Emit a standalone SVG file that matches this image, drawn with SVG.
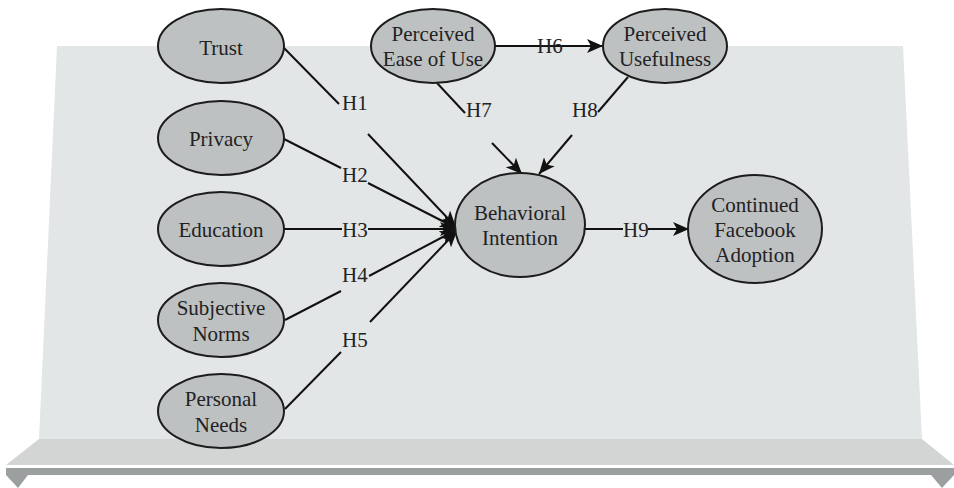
<svg xmlns="http://www.w3.org/2000/svg" width="954" height="488" viewBox="0 0 954 488">
<defs>
<style>
.n ellipse{fill:#bec1c2;stroke:#1c1c1c;stroke-width:2}
.n text{text-anchor:middle}
.c line{stroke:#111;stroke-width:2}
.a{marker-end:url(#arr)}
</style>
<marker id="arr" markerUnits="userSpaceOnUse" markerWidth="17" markerHeight="14" refX="16" refY="7" orient="auto" viewBox="0 0 17 14">
<path d="M0,0 L16,7 L0,14 L4,7 z" fill="#111"/>
</marker>
</defs>
<g id="background">
<polygon points="57,46 903,46 922,439 39,439" fill="#e3e6e6"/>
<polygon points="39,439 922,439 954,465 6,465" fill="#d3d5d5"/>
<rect x="6" y="468" width="948" height="7" fill="#9c9fa0"/>
<polygon points="6,475 28,475 18,488" fill="#9c9fa0"/>
<polygon points="931,475 954,475 942,488" fill="#9c9fa0"/>
</g>
<g font-family="Liberation Serif, serif" font-size="21" fill="#222">
<g id="connectors" class="c">
<line x1="284" y1="48" x2="339" y2="104"/>
<line class="a" x1="368" y1="134" x2="456" y2="227"/>
<line x1="284" y1="139" x2="341" y2="168"/>
<line class="a" x1="368" y1="183" x2="456" y2="228"/>
<line x1="284" y1="229" x2="342" y2="229"/>
<line class="a" x1="368" y1="229" x2="456" y2="229"/>
<line x1="285" y1="320" x2="341" y2="291"/>
<line class="a" x1="369" y1="276" x2="456" y2="230"/>
<line x1="285" y1="409" x2="341" y2="352"/>
<line class="a" x1="370" y1="322" x2="457" y2="231"/>
<line class="a" x1="495" y1="46" x2="603" y2="46"/>
<line x1="437" y1="83" x2="465" y2="113"/>
<line class="a" x1="492" y1="143" x2="522" y2="174"/>
<line x1="628" y1="77" x2="598" y2="112"/>
<line class="a" x1="572" y1="135" x2="539" y2="174"/>
<line x1="585" y1="229" x2="623" y2="229"/>
<line class="a" x1="648" y1="229" x2="689" y2="229"/>
<text x="342" y="110">H1</text>
<text x="342" y="182">H2</text>
<text x="342" y="237">H3</text>
<text x="342" y="282">H4</text>
<text x="342" y="347">H5</text>
<text x="537" y="53">H6</text>
<text x="466" y="117">H7</text>
<text x="572" y="117">H8</text>
<text x="623" y="237">H9</text>
</g>
<g id="trust" class="n"><ellipse cx="221" cy="46" rx="63" ry="37"/><text x="221" y="55">Trust</text></g>
<g id="privacy" class="n"><ellipse cx="221" cy="138" rx="63" ry="37"/><text x="221" y="146">Privacy</text></g>
<g id="education" class="n"><ellipse cx="221" cy="229" rx="63" ry="37"/><text x="221" y="237">Education</text></g>
<g id="subjective-norms" class="n"><ellipse cx="221" cy="320" rx="63" ry="37"/><text x="221" y="315">Subjective</text><text x="221" y="341">Norms</text></g>
<g id="personal-needs" class="n"><ellipse cx="221" cy="411" rx="63" ry="37"/><text x="221" y="406">Personal</text><text x="221" y="432">Needs</text></g>
<g id="peou" class="n"><ellipse cx="433" cy="46" rx="62" ry="37"/><text x="433" y="41">Perceived</text><text x="433" y="66">Ease of Use</text></g>
<g id="pu" class="n"><ellipse cx="665" cy="46" rx="62" ry="37"/><text x="665" y="41">Perceived</text><text x="665" y="66">Usefulness</text></g>
<g id="bi" class="n"><ellipse cx="520" cy="225" rx="65" ry="52"/><text x="520" y="220">Behavioral</text><text x="520" y="245">Intention</text></g>
<g id="cfa" class="n"><ellipse cx="755" cy="229" rx="67" ry="54"/><text x="755" y="212">Continued</text><text x="755" y="237">Facebook</text><text x="755" y="262">Adoption</text></g>
</g>
</svg>
